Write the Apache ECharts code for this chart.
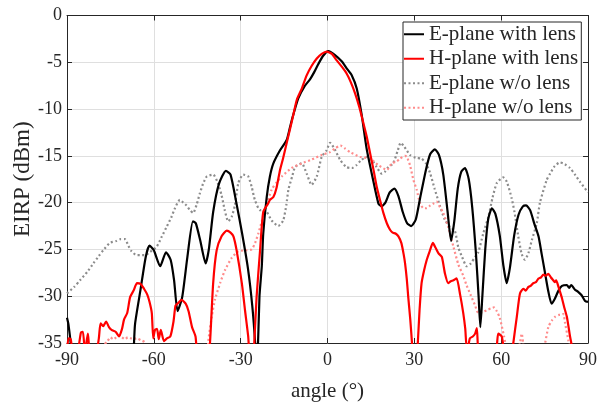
<!DOCTYPE html>
<html>
<head>
<meta charset="utf-8">
<script src="https://cdn.jsdelivr.net/npm/echarts@6/dist/echarts.min.js"></script>
<style>html,body{margin:0;padding:0;background:#fff;}#c{width:600px;height:405px;}</style>
</head>
<body>
<div id="c"></div>
<script>
// ---- data (angle in degrees, EIRP in dBm) ----
const seriesNames = ['E-plane with lens', 'H-plane with lens', 'E-plane w/o lens', 'H-plane w/o lens'];
const xTicks = [-90, -60, -30, 0, 30, 60, 90];
const yTicks = [-35, -30, -25, -20, -15, -10, -5, 0];

const eWithLens = [[-90,-32.3],[-89.5,-33],[-88.6,-35.5],[-88,-40],[-68,-40],[-67,-36],[-66.5,-33],[-64.6,-29.3],[-62.8,-25.8],[-61.5,-24.6],[-60,-25.1],[-57.8,-26.8],[-55.8,-25.3],[-54.2,-26.1],[-53,-28.3],[-51.8,-31.6],[-50.2,-30.1],[-48.4,-25.8],[-46.5,-22.0],[-45.5,-22.2],[-44,-24],[-42.1,-26.5],[-41,-25],[-39.5,-21],[-37.5,-18],[-35.1,-16.6],[-33.5,-17],[-31.5,-20],[-29.5,-23.3],[-27.5,-27],[-26,-31],[-25,-35],[-24.6,-38],[-24.2,-37],[-23.5,-30],[-22.7,-26.8],[-22.2,-23.3],[-21,-19.4],[-19.9,-17.2],[-18.7,-15.8],[-16.4,-14.4],[-14.1,-13.3],[-13,-12],[-12,-10.8],[-10.1,-8.85],[-8,-7.6],[-6,-6.8],[-4.5,-6.0],[-3.2,-5.2],[-1.5,-4.3],[0.3,-3.8],[2.5,-4.2],[4.9,-4.9],[6.5,-5.6],[8.4,-6.4],[10.1,-7.8],[11.8,-10.6],[13.5,-14.2],[15.5,-17.2],[17.6,-20.1],[18.7,-20.4],[20,-20],[21.5,-18.9],[23.1,-18.5],[24.5,-19.3],[26,-21],[27.5,-22.2],[28.9,-22.5],[30.5,-21.8],[32,-19.5],[34,-16.5],[35.5,-14.8],[37.1,-14.3],[38.5,-14.9],[40,-17],[41.5,-21],[42.7,-24.1],[43.8,-22],[45,-18.5],[46.2,-16.7],[47.5,-16.3],[48.8,-17.5],[50,-20.5],[51.3,-25.5],[52.2,-30],[52.8,-33.3],[53.5,-30],[54.5,-25],[55.5,-21.8],[56.8,-20.6],[58,-21.2],[59.5,-23.5],[60.8,-26.8],[61.9,-28.6],[63,-27],[64.5,-23.5],[66,-21.3],[67.5,-20.4],[68.6,-20.3],[70,-20.8],[71.5,-22.3],[72.9,-23.6],[74,-25.5],[75.2,-27.6],[76.3,-29.5],[77.4,-30.8],[78.5,-30.3],[79.8,-29.4],[81,-28.9],[82.7,-28.8],[83.5,-29.1],[84.2,-28.8],[85.5,-29.3],[86.5,-29.5],[87.8,-29.9],[89,-30.5],[90,-30.6]];

const hWithLens = [[-90,-36],[-89.5,-34.5],[-88.7,-34.6],[-88,-36],[-86.5,-36],[-85.2,-33.9],[-84.5,-33.8],[-83.8,-36],[-82.8,-34],[-82,-36],[-80,-36],[-79,-34.5],[-78.4,-32.9],[-77.5,-33.2],[-76.5,-32.7],[-75.5,-33.3],[-74.6,-33.6],[-73.2,-33.8],[-72,-34.3],[-71,-33.5],[-70.3,-32.5],[-69.2,-31.8],[-68.2,-30.1],[-67,-29.4],[-65.8,-28.6],[-64.5,-28.7],[-63.4,-29.2],[-62.3,-29.8],[-61.5,-30.6],[-60.7,-31.8],[-60.2,-34.5],[-59.6,-33.6],[-58.9,-33.5],[-58.3,-34.6],[-57.6,-33.6],[-56.5,-34.8],[-55.5,-34.5],[-54.3,-34.3],[-53.2,-32.7],[-52.5,-31],[-51.5,-30.7],[-50.4,-30.4],[-49,-30.8],[-48,-31.6],[-46.8,-33.3],[-45.6,-34.3],[-45,-36],[-41.5,-38],[-40.6,-35],[-39.5,-28.6],[-38.3,-25.1],[-36.6,-23.6],[-34.8,-23],[-33.5,-23.2],[-32.5,-23.6],[-31.4,-25.1],[-29.6,-28.6],[-28.5,-31.5],[-27.4,-34.3],[-26.5,-38],[-25.8,-38],[-25.3,-35],[-24.5,-30.1],[-23.3,-25.1],[-22.2,-21],[-20.5,-20.1],[-19.9,-19.7],[-18.7,-19.4],[-17.6,-18.4],[-16.4,-16.5],[-15.3,-15.2],[-14,-13.5],[-13,-12.2],[-11.8,-10.6],[-10.6,-9.0],[-9,-7.9],[-7.2,-6.4],[-5.5,-5.4],[-3.7,-4.6],[-2,-4.1],[-0.3,-3.85],[1.5,-4.1],[3.2,-4.8],[5,-5.5],[6.6,-6.2],[8,-7.1],[9.5,-8.3],[11,-9.8],[12.4,-11.5],[13.6,-13],[14.7,-14.7],[15.9,-16.5],[17,-18.3],[18.2,-19.8],[19.3,-21.1],[20.5,-22.2],[21.6,-22.9],[22.5,-23.2],[23.5,-23.3],[24.5,-23.6],[25.5,-24.3],[26.3,-25.5],[26.8,-26.5],[27.4,-28.2],[27.9,-30.1],[28.6,-32.5],[29.3,-35.5],[29.7,-38],[30.5,-38],[31.2,-35],[31.8,-31.5],[32.5,-28.6],[33.4,-27.2],[34.3,-26.1],[35.3,-25.2],[36.4,-24.3],[37.3,-24.8],[38.3,-25.4],[39.5,-25.8],[40.6,-27.6],[41.7,-28.6],[42.6,-28.4],[43.5,-28.3],[44.6,-28.1],[45.8,-29.8],[46.9,-31.8],[47.6,-33.5],[48.1,-35.5],[48.7,-35.2],[49.2,-34.5],[50.2,-34.3],[51,-34],[51.6,-33.4],[52,-35.5],[53,-37],[58,-37],[58.6,-35],[59,-34],[60.2,-34.3],[60.8,-35.5],[61.5,-37],[63.5,-37],[64.2,-35],[65.4,-32.2],[66.5,-29.7],[67.7,-29.2],[68.5,-29.4],[69.4,-29],[70.2,-28.9],[71.1,-28.6],[72,-28.5],[72.9,-28.1],[73.7,-28],[74.6,-27.7],[75.5,-27.8],[76.3,-27.6],[77.2,-28],[78,-28.3],[78.5,-28.5],[79,-28.3],[79.8,-29],[80.9,-30.1],[81.8,-31.2],[82.7,-32.2],[83.8,-34.3],[84.5,-35.5],[85,-38]];

const eWithoutLens = [[-90,-29.7],[-87.5,-29],[-85.5,-28.3],[-83,-27.4],[-80.9,-26.5],[-79,-25.7],[-77.5,-25.1],[-75.2,-24.3],[-73,-24.1],[-71.5,-23.9],[-70,-23.9],[-68.8,-24.6],[-67.7,-25.2],[-66,-25.6],[-64.8,-25.6],[-63.3,-25.6],[-61.9,-25.4],[-59,-24.7],[-57.2,-23.6],[-55.6,-22.6],[-54,-21.6],[-52.7,-20.6],[-51,-19.7],[-49.8,-20],[-48.7,-20.3],[-47.5,-20.8],[-46.4,-21.1],[-45.2,-20.2],[-44.1,-19],[-43,-18],[-41.7,-17.2],[-39.5,-17],[-38,-17.8],[-36.6,-19.2],[-35.5,-20.8],[-34.3,-22],[-33.1,-21.5],[-32,-20.3],[-30.8,-17.9],[-29.1,-17],[-27.4,-17.2],[-26.2,-18.3],[-25.1,-19.7],[-23.3,-20.8],[-21.6,-20.8],[-19.3,-21.9],[-17,-22.5],[-15.3,-21.9],[-14.2,-20.2],[-13.5,-18.6],[-12.2,-17.2],[-11.2,-16.2],[-8.9,-15.8],[-7.2,-16.9],[-5.5,-18.1],[-3.7,-17.2],[-2,-15.1],[-0.3,-14.4],[0.9,-13.6],[2.5,-14.3],[4.3,-15.4],[6.5,-16.2],[8.4,-16.3],[10,-16],[11.5,-15.5],[13.5,-15.1],[15.5,-15.5],[17,-16.2],[18.7,-16.9],[19.8,-16.7],[21,-16.2],[22.7,-15.8],[24.3,-14.4],[25.3,-13.6],[26.5,-14],[28.5,-14.9],[30.5,-15.2],[32.5,-15.3],[34,-15.8],[35.4,-16.8],[37,-18.5],[38.9,-20.4],[40.5,-21.8],[42.3,-22.6],[44,-23],[45.2,-24.8],[46.5,-25.8],[48.1,-26.8],[49.5,-26.5],[51,-25.8],[52.1,-25.3],[53.8,-23.3],[55.6,-21.5],[57,-19.5],[58.5,-17.9],[60.7,-17.3],[62,-17.8],[63.6,-19.5],[64.6,-21],[65.9,-23.6],[67.1,-25.5],[68.2,-26.1],[69.4,-25.4],[70.6,-24],[72.3,-22.2],[73.4,-20],[75.7,-17.6],[76.9,-16.9],[78.5,-16.1],[80.3,-15.7],[82,-15.9],[83.8,-16.3],[85.5,-17],[87.3,-17.8],[90,-18.9]];

const hWithoutLens = [[-90,-40],[-78,-40],[-77,-35.2],[-76,-34.8],[-75,-34.4],[-74,-34.6],[-73,-34.4],[-72,-34.2],[-71,-34.4],[-70,-34.6],[-69,-34.4],[-68,-34.5],[-67,-34.6],[-66,-34.5],[-64.5,-34.7],[-63.2,-34.9],[-62.5,-36],[-60,-40],[-42,-40],[-41.2,-34.9],[-40,-32.2],[-38.9,-30.4],[-37.1,-28.6],[-35.4,-27.2],[-33.1,-25.9],[-30.8,-25.2],[-28.5,-25.1],[-26.2,-25],[-25,-24.3],[-23.9,-23.3],[-22.7,-22],[-21.6,-20.8],[-19.3,-18.6],[-17.5,-17.8],[-15.8,-17.2],[-12.4,-16.3],[-8.9,-15.8],[-5.5,-15.4],[-2,-14.9],[0.9,-14.6],[2.6,-14.2],[4.5,-13.9],[6,-14.2],[7.8,-14.6],[11.2,-15.1],[14.7,-15.3],[17.6,-16],[20.5,-16.5],[22.2,-15.8],[23.9,-15.6],[25,-15.3],[26.8,-15],[27.4,-15.1],[28.5,-16],[29.7,-17.6],[30.8,-18.6],[32,-20.1],[33.2,-20.6],[34.3,-20.6],[35.5,-20.3],[36.6,-20.1],[37.7,-19.9],[38.9,-20.5],[40,-21.1],[41.7,-22.6],[43.5,-24.7],[45.2,-26.6],[46.9,-27.8],[48,-28.8],[49.5,-29.9],[51,-31],[52.1,-31.8],[53.5,-31.7],[55,-31.5],[56.5,-31.3],[57.5,-31.2],[58.5,-31.6],[59.5,-32.3],[61,-34.3],[62,-36],[63,-37],[65,-37],[66.5,-35],[67.1,-34],[67.6,-35],[68.5,-37],[74,-37],[75.2,-35],[76.3,-33.3],[77.5,-32.6],[78.6,-32.2],[80,-32],[80.9,-32],[81.5,-31.9],[82.1,-32.9],[83.2,-34.7],[84,-36],[86,-40],[90,-40]];

const seriesData = [eWithLens, hWithLens, eWithoutLens, hWithoutLens];
const seriesColors = ['#000000', '#ff0000', '#8c8c8c', '#ff8c8c'];
const seriesDash = ['solid', 'solid', [2, 2.5], [2, 2.5]];

// ---- chart ----
const FONT = 'Liberation Serif';
const AXC = '#262626';
const chart = echarts.init(document.getElementById('c'), null, {renderer: 'canvas'});

const xBase = {type: 'value', min: -90, max: 90, interval: 30};
const yBase = {type: 'value', min: -35, max: 0, interval: 5};

chart.setOption({
  animation: false,
  backgroundColor: '#ffffff',
  grid: {left: 67, right: 12, top: 15.5, bottom: 62, containLabel: false, outerBoundsMode: 'none'},
  xAxis: [
    Object.assign({}, xBase, {
      position: 'bottom',
      name: 'angle (°)', nameLocation: 'middle', nameGap: 38, nameMoveOverlap: false,
      nameTextStyle: {fontFamily: FONT, fontSize: 21, color: AXC},
      axisLine: {show: true, onZero: false, lineStyle: {color: AXC, width: 1}},
      axisTick: {show: true, inside: true, length: 5, lineStyle: {color: AXC}},
      axisLabel: {fontFamily: FONT, fontSize: 18, color: AXC, margin: 8,
        formatter: v => xTicks.includes(v) ? String(v) : ''},
      splitLine: {show: true, lineStyle: {color: '#dfdfdf', width: 1}}
    }),
    Object.assign({}, xBase, {
      position: 'top',
      axisLine: {show: true, onZero: false, lineStyle: {color: AXC, width: 1}},
      axisTick: {show: true, inside: true, length: 5, lineStyle: {color: AXC}},
      axisLabel: {show: false},
      splitLine: {show: false}
    })
  ],
  yAxis: [
    Object.assign({}, yBase, {
      position: 'left',
      name: 'EIRP (dBm)', nameLocation: 'middle', nameGap: 33, nameRotate: 90, nameMoveOverlap: false,
      nameTextStyle: {fontFamily: FONT, fontSize: 23, color: AXC},
      axisLine: {show: true, onZero: false, lineStyle: {color: AXC, width: 1}},
      axisTick: {show: true, inside: true, length: 5, lineStyle: {color: AXC}},
      axisLabel: {fontFamily: FONT, fontSize: 18, color: AXC, margin: 5,
        formatter: v => yTicks.includes(v) ? String(v) : ''},
      splitLine: {show: true, lineStyle: {color: '#dfdfdf', width: 1}}
    }),
    Object.assign({}, yBase, {
      position: 'right',
      axisLine: {show: true, onZero: false, lineStyle: {color: AXC, width: 1}},
      axisTick: {show: true, inside: true, length: 5, lineStyle: {color: AXC}},
      axisLabel: {show: false},
      splitLine: {show: false}
    })
  ],
  legend: {
    orient: 'vertical', left: 403, top: 22,
    padding: [0, 3, 0, 0], itemGap: 0,
    itemWidth: 20, itemHeight: 12,
    itemStyle: {opacity: 0},
    backgroundColor: '#ffffff', borderColor: AXC, borderWidth: 1, borderRadius: 0,
    textStyle: {fontFamily: FONT, fontSize: 21, color: AXC, lineHeight: 24.5},
    data: seriesNames
  },
  series: seriesNames.map((n, i) => ({
    name: n, type: 'line', xAxisIndex: 0, yAxisIndex: 0,
    data: seriesData[i], symbol: 'none', clip: true,
    smooth: 0.2,
    lineStyle: {color: seriesColors[i], width: 2.2, type: seriesDash[i]},
    itemStyle: {color: seriesColors[i]},
    z: i < 2 ? 3 : 2
  }))
});
</script>
</body>
</html>
